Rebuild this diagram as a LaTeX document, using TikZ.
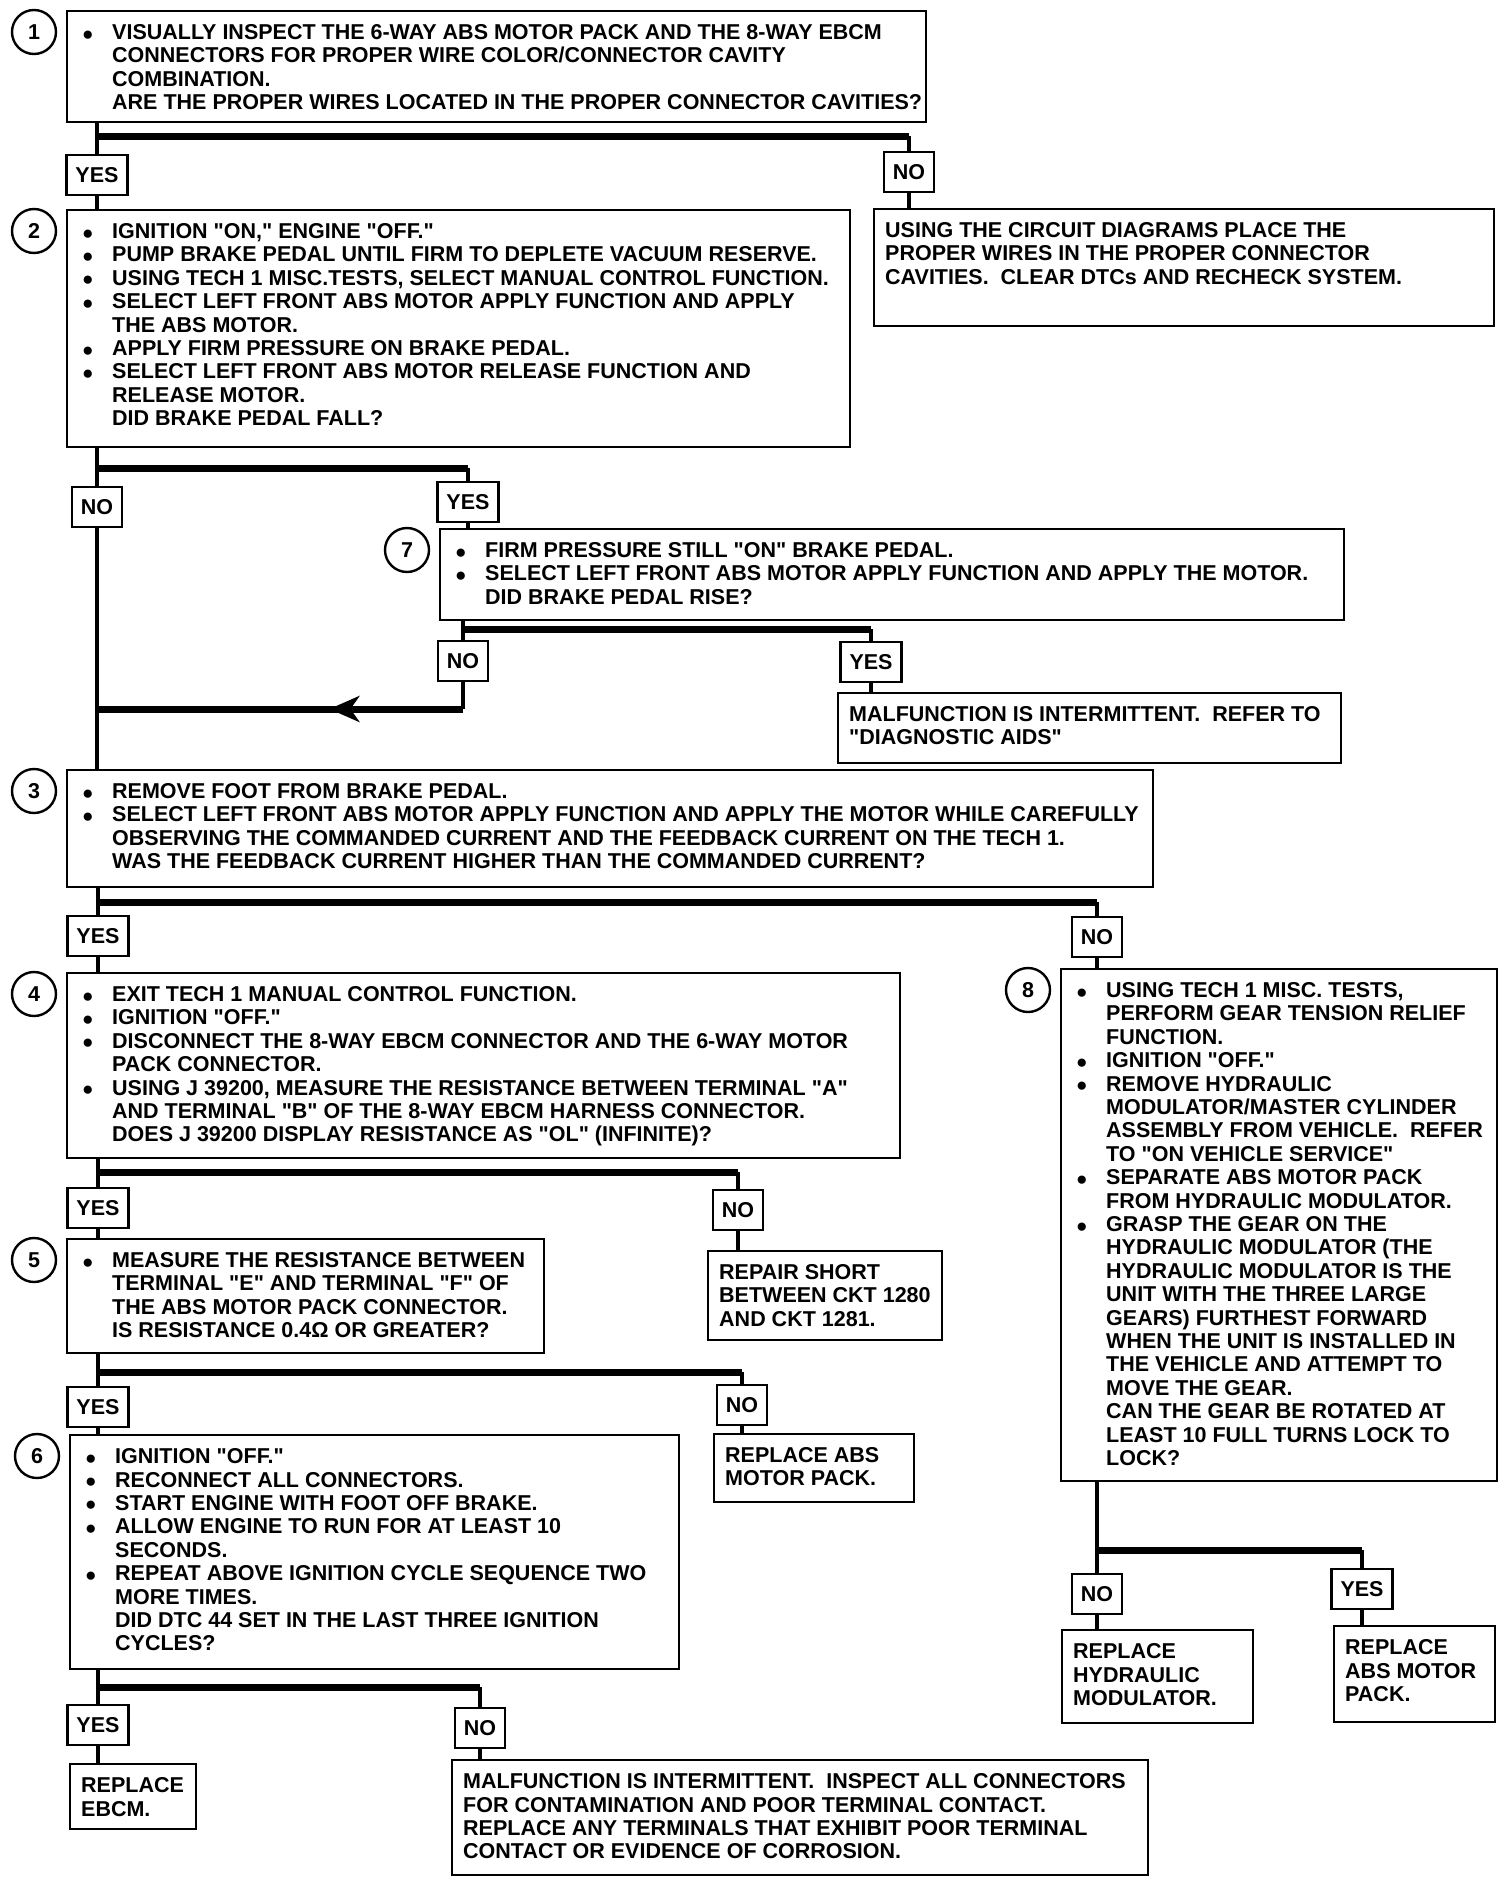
\documentclass[tikz,border=0pt]{standalone}
\usepackage{fontspec}
\setmainfont{Liberation Sans}[Ligatures=TeXOff]
\usetikzlibrary{arrows.meta,calc,decorations.markings}

\newcommand{\chartfont}{\fontsize{21.5}{23.4}\selectfont\bfseries}
\newcommand{\bul}{\makebox[30pt][l]{\raisebox{-0.5pt}{\fontsize{19}{19}\selectfont ●}}}
\newcommand{\ind}{\hspace*{30pt}}
% #1 left margin, #2 width, #3 height, #4 lines
\newcommand{\boxlines}[4]{\parbox[c][#3pt][t]{#2pt}{\vspace*{12pt}\hspace*{#1pt}\begin{tabular}[t]{@{}l@{}}#4\end{tabular}}}

\begin{document}
\begin{tikzpicture}[x=1pt,y=-1pt,font=\chartfont,
    box/.style={draw,line width=2.4pt,anchor=north west,inner sep=0pt},
    num/.style={circle,draw,line width=2.4pt,minimum size=44pt,inner sep=0pt},
    tag/.style={draw,line width=2.4pt,minimum height=40pt,inner xsep=9pt,inner ysep=0pt},
    link/.style={line width=3.2pt},
    bar/.style={line width=7pt},
    back/.style={bar,postaction={decorate},decoration={markings,
      mark=at position 0.365 with {\arrow{Stealth[length=30pt,width=26pt,inset=9pt]}}}}
  ]
  \useasboundingbox (0,0) rectangle (1504,1884);

  % steps and results
  \node[box] (s1) at (66,10) {\boxlines{15}{859}{111}{%
    \bul VISUALLY INSPECT THE 6-WAY ABS MOTOR PACK AND THE 8-WAY EBCM\\
    \ind CONNECTORS FOR PROPER WIRE COLOR/CONNECTOR CAVITY\\
    \ind COMBINATION.\\
    \ind ARE THE PROPER WIRES LOCATED IN THE PROPER CONNECTOR CAVITIES?}};
  \node[box] (r1) at (873,208) {\boxlines{11}{620}{117}{%
    USING THE CIRCUIT DIAGRAMS PLACE THE\\
    PROPER WIRES IN THE PROPER CONNECTOR\\
    CAVITIES.\ \ CLEAR DTCs AND RECHECK SYSTEM.}};
  \node[box] (s2) at (66,209) {\boxlines{15}{783}{237}{%
    \bul IGNITION "ON," ENGINE "OFF."\\
    \bul PUMP BRAKE PEDAL UNTIL FIRM TO DEPLETE VACUUM RESERVE.\\
    \bul USING TECH 1 MISC.TESTS, SELECT MANUAL CONTROL FUNCTION.\\
    \bul SELECT LEFT FRONT ABS MOTOR APPLY FUNCTION AND APPLY\\
    \ind THE ABS MOTOR.\\
    \bul APPLY FIRM PRESSURE ON BRAKE PEDAL.\\
    \bul SELECT LEFT FRONT ABS MOTOR RELEASE FUNCTION AND\\
    \ind RELEASE MOTOR.\\
    \ind DID BRAKE PEDAL FALL?}};
  \node[box] (s7) at (439,528) {\boxlines{15}{904}{91}{%
    \bul FIRM PRESSURE STILL "ON" BRAKE PEDAL.\\
    \bul SELECT LEFT FRONT ABS MOTOR APPLY FUNCTION AND APPLY THE MOTOR.\\
    \ind DID BRAKE PEDAL RISE?}};
  \node[box] (r7) at (837,692) {\boxlines{11}{503}{70}{%
    MALFUNCTION IS INTERMITTENT.\ \ REFER TO\\
    "DIAGNOSTIC AIDS"}};
  \node[box] (s3) at (66,769) {\boxlines{15}{1086}{117}{%
    \bul REMOVE FOOT FROM BRAKE PEDAL.\\
    \bul SELECT LEFT FRONT ABS MOTOR APPLY FUNCTION AND APPLY THE MOTOR WHILE CAREFULLY\\
    \ind OBSERVING THE COMMANDED CURRENT AND THE FEEDBACK CURRENT ON THE TECH 1.\\
    \ind WAS THE FEEDBACK CURRENT HIGHER THAN THE COMMANDED CURRENT?}};
  \node[box] (s4) at (66,972) {\boxlines{15}{833}{185}{%
    \bul EXIT TECH 1 MANUAL CONTROL FUNCTION.\\
    \bul IGNITION "OFF."\\
    \bul DISCONNECT THE 8-WAY EBCM CONNECTOR AND THE 6-WAY MOTOR\\
    \ind PACK CONNECTOR.\\
    \bul USING J 39200, MEASURE THE RESISTANCE BETWEEN TERMINAL "A"\\
    \ind AND TERMINAL "B" OF THE 8-WAY EBCM HARNESS CONNECTOR.\\
    \ind DOES J 39200 DISPLAY RESISTANCE AS "OL" (INFINITE)?}};
  \node[box] (s8) at (1060,968) {\boxlines{15}{436}{512}{%
    \bul USING TECH 1 MISC. TESTS,\\
    \ind PERFORM GEAR TENSION RELIEF\\
    \ind FUNCTION.\\
    \bul IGNITION "OFF."\\
    \bul REMOVE HYDRAULIC\\
    \ind MODULATOR/MASTER CYLINDER\\
    \ind ASSEMBLY FROM VEHICLE.\ \ REFER\\
    \ind TO "ON VEHICLE SERVICE"\\
    \bul SEPARATE ABS MOTOR PACK\\
    \ind FROM HYDRAULIC MODULATOR.\\
    \bul GRASP THE GEAR ON THE\\
    \ind HYDRAULIC MODULATOR (THE\\
    \ind HYDRAULIC MODULATOR IS THE\\
    \ind UNIT WITH THE THREE LARGE\\
    \ind GEARS) FURTHEST FORWARD\\
    \ind WHEN THE UNIT IS INSTALLED IN\\
    \ind THE VEHICLE AND ATTEMPT TO\\
    \ind MOVE THE GEAR.\\
    \ind CAN THE GEAR BE ROTATED AT\\
    \ind LEAST 10 FULL TURNS LOCK TO\\
    \ind LOCK?}};
  \node[box] (r4) at (707,1250) {\boxlines{11}{234}{89}{%
    REPAIR SHORT\\
    BETWEEN CKT 1280\\
    AND CKT 1281.}};
  \node[box] (s5) at (66,1238) {\boxlines{15}{477}{114}{%
    \bul MEASURE THE RESISTANCE BETWEEN\\
    \ind TERMINAL "E" AND TERMINAL "F" OF\\
    \ind THE ABS MOTOR PACK CONNECTOR.\\
    \ind IS RESISTANCE 0.4Ω OR GREATER?}};
  \node[box] (r5) at (713,1433) {\boxlines{11}{200}{68}{%
    REPLACE ABS\\
    MOTOR PACK.}};
  \node[box] (s6) at (69,1434) {\boxlines{15}{609}{234}{%
    \bul IGNITION "OFF."\\
    \bul RECONNECT ALL CONNECTORS.\\
    \bul START ENGINE WITH FOOT OFF BRAKE.\\
    \bul ALLOW ENGINE TO RUN FOR AT LEAST 10\\
    \ind SECONDS.\\
    \bul REPEAT ABOVE IGNITION CYCLE SEQUENCE TWO\\
    \ind MORE TIMES.\\
    \ind DID DTC 44 SET IN THE LAST THREE IGNITION\\
    \ind CYCLES?}};
  \node[box] (r6y) at (69,1763) {\boxlines{11}{126}{65}{%
    REPLACE\\
    EBCM.}};
  \node[box] (r6n) at (451,1759) {\boxlines{11}{696}{115}{%
    MALFUNCTION IS INTERMITTENT.\ \ INSPECT ALL CONNECTORS\\
    FOR CONTAMINATION AND POOR TERMINAL CONTACT.\\
    REPLACE ANY TERMINALS THAT EXHIBIT POOR TERMINAL\\
    CONTACT OR EVIDENCE OF CORROSION.}};
  \node[box] (r8n) at (1061,1629) {\boxlines{11}{191}{93}{%
    REPLACE\\
    HYDRAULIC\\
    MODULATOR.}};
  \node[box] (r8y) at (1333,1625) {\boxlines{11}{161}{96}{%
    REPLACE\\
    ABS MOTOR\\
    PACK.}};

  % step numbers
  \node[num] (n1) at ($(s1.north west)+(-32,22)$) {1};
  \node[num] (n2) at ($(s2.north west)+(-32,22)$) {2};
  \node[num] (n7) at ($(s7.north west)+(-32,22)$) {7};
  \node[num] (n3) at ($(s3.north west)+(-32,22)$) {3};
  \node[num] (n4) at ($(s4.north west)+(-32,22)$) {4};
  \node[num] (n8) at ($(s8.north west)+(-32,22)$) {8};
  \node[num] (n5) at ($(s5.north west)+(-32,22)$) {5};
  \node[num] (n6) at ($(s6.north west)+(-32,22)$) {6};

  % answers
  \node[tag] (yes1) at (97,175) {YES};
  \node[tag] (no1) at (909,172) {NO};
  \node[tag] (no2) at (97,507) {NO};
  \node[tag] (yes2) at (468,502) {YES};
  \node[tag] (no7) at (463,661) {NO};
  \node[tag] (yes7) at (871,662) {YES};
  \node[tag] (yes3) at (98,936) {YES};
  \node[tag] (no3) at (1097,937) {NO};
  \node[tag] (yes4) at (98,1208) {YES};
  \node[tag] (no4) at (738,1210) {NO};
  \node[tag] (yes5) at (98,1407) {YES};
  \node[tag] (no5) at (742,1405) {NO};
  \node[tag] (yes6) at (98,1725) {YES};
  \node[tag] (no6) at (480,1728) {NO};
  \node[tag] (no8) at (1097,1594) {NO};
  \node[tag] (yes8) at (1362,1589) {YES};

  % branch levels
  \coordinate (b1) at (0,136);
  \coordinate (b2) at (0,468);
  \coordinate (b7) at (0,629);
  \coordinate (b9) at (0,709);
  \coordinate (b3) at (0,902);
  \coordinate (b4) at (0,1172);
  \coordinate (b5) at (0,1372);
  \coordinate (b6) at (0,1687);
  \coordinate (b8) at (0,1550);

  % 1
  \draw[link] (s1.south -| yes1) -- (yes1.north);
  \draw[bar] (yes1 |- b1) -- (no1 |- b1);
  \draw[link] (no1 |- b1) -- (no1.north);
  \draw[link] (yes1.south) -- (yes1.south |- s2.north);
  \draw[link] (no1.south) -- (no1.south |- r1.north);
  % 2
  \draw[link] (s2.south -| no2) -- (no2.north);
  \draw[bar] (no2 |- b2) -- (yes2 |- b2);
  \draw[link] (yes2 |- b2) -- (yes2.north);
  \draw[link] (yes2.south) -- (yes2.south |- s7.north);
  \draw[link] (no2.south) -- (no2.south |- s3.north);
  % 7
  \draw[link] (s7.south -| no7) -- (no7.north);
  \draw[bar] (no7 |- b7) -- (yes7 |- b7);
  \draw[link] (yes7 |- b7) -- (yes7.north);
  \draw[link] (yes7.south) -- (yes7.south |- r7.north);
  \draw[link] (no7.south) -- (no7.south |- b9);
  \draw[back] (no7 |- b9) -- (no2 |- b9);
  % 3
  \draw[link] (s3.south -| yes3) -- (yes3.north);
  \draw[bar] (yes3 |- b3) -- (no3 |- b3);
  \draw[link] (no3 |- b3) -- (no3.north);
  \draw[link] (yes3.south) -- (yes3.south |- s4.north);
  \draw[link] (no3.south) -- (no3.south |- s8.north);
  % 4
  \draw[link] (s4.south -| yes4) -- (yes4.north);
  \draw[bar] (yes4 |- b4) -- (no4 |- b4);
  \draw[link] (no4 |- b4) -- (no4.north);
  \draw[link] (yes4.south) -- (yes4.south |- s5.north);
  \draw[link] (no4.south) -- (no4.south |- r4.north);
  % 5
  \draw[link] (s5.south -| yes5) -- (yes5.north);
  \draw[bar] (yes5 |- b5) -- (no5 |- b5);
  \draw[link] (no5 |- b5) -- (no5.north);
  \draw[link] (yes5.south) -- (yes5.south |- s6.north);
  \draw[link] (no5.south) -- (no5.south |- r5.north);
  % 6
  \draw[link] (s6.south -| yes6) -- (yes6.north);
  \draw[bar] (yes6 |- b6) -- (no6 |- b6);
  \draw[link] (no6 |- b6) -- (no6.north);
  \draw[link] (yes6.south) -- (yes6.south |- r6y.north);
  \draw[link] (no6.south) -- (no6.south |- r6n.north);
  % 8
  \draw[link] (s8.south -| no8) -- (no8.north);
  \draw[bar] (no8 |- b8) -- (yes8 |- b8);
  \draw[link] (yes8 |- b8) -- (yes8.north);
  \draw[link] (no8.south) -- (no8.south |- r8n.north);
  \draw[link] (yes8.south) -- (yes8.south |- r8y.north);
\end{tikzpicture}
\end{document}
